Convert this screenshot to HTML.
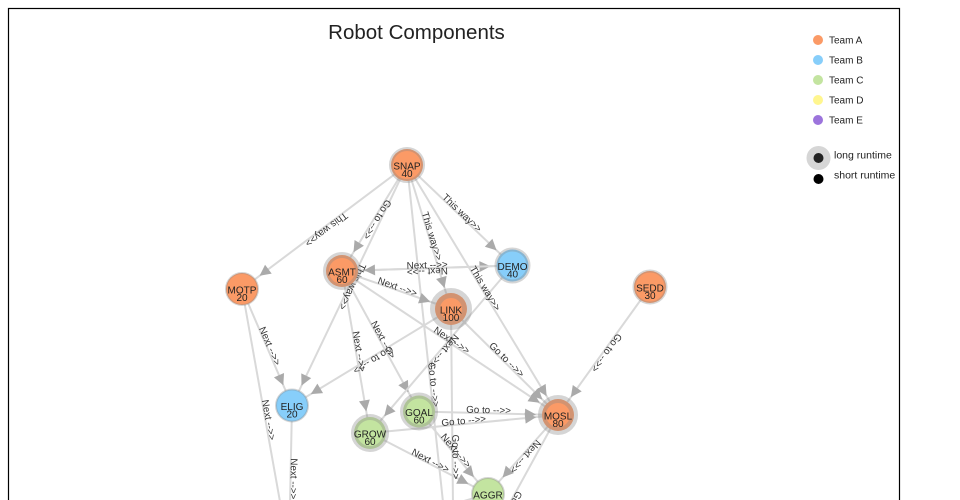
<!DOCTYPE html>
<html>
<head>
<meta charset="utf-8">
<style>
  html, body { margin: 0; padding: 0; background: #fff; width: 960px; height: 500px; overflow: hidden; }
  svg { display: block; overflow: hidden; }
  .link { stroke: #d9d9d9; stroke-width: 2; fill: none; }
  .elabel { font-family: "Liberation Sans", "DejaVu Sans", sans-serif; font-size: 9.8px; fill: #333; }
  .nlabel { font-family: "Liberation Sans", "DejaVu Sans", sans-serif; font-size: 10px; fill: #222; text-anchor: middle; }
  .leg { font-family: "Liberation Sans", "DejaVu Sans", sans-serif; font-size: 10px; fill: #222; }
  .node { stroke: #888; stroke-opacity: 0.35; }
</style>
</head>
<body>
<svg width="960" height="500" viewBox="0 0 960 500" xmlns="http://www.w3.org/2000/svg">
  <defs>
    <marker id="arr" viewBox="0 -5.5 11 11" refX="33" refY="0" markerWidth="11" markerHeight="11" markerUnits="userSpaceOnUse" orient="auto" overflow="visible">
      <path d="M0,-5.5L11,0L0,5.5Z" fill="#aaa"/>
    </marker>
    <clipPath id="frame"><rect x="0" y="0" width="960" height="500"/></clipPath>
  </defs>

  <g clip-path="url(#frame)">
  <rect x="8.5" y="8.5" width="891" height="494" fill="none" stroke="#000" stroke-width="1.2"/>

  <text x="416.5" y="39" text-anchor="middle" font-family="Liberation Sans, DejaVu Sans, sans-serif" font-size="20.5" fill="#222">Robot Components</text>

  <!-- links -->
  <g>
    <path id="e1" class="link" marker-end="url(#arr)" d="M407,165 L242,289"/>
    <path id="e2" class="link" marker-end="url(#arr)" d="M407,165 L342,271"/>
    <path id="e3" class="link" marker-end="url(#arr)" d="M407,165 L292,405.5"/>
    <path id="e4" class="link" marker-end="url(#arr)" d="M407,165 L454,605"/>
    <path id="e5" class="link" marker-end="url(#arr)" d="M407,165 L451,309"/>
    <path id="e6" class="link" marker-end="url(#arr)" d="M407,165 L558,415"/>
    <path id="e7" class="link" marker-end="url(#arr)" d="M407,165 L512.5,265.5"/>
    <path id="e8" class="link" marker-end="url(#arr)" d="M342,271 L512.5,265.5"/>
    <path id="e9" class="link" marker-end="url(#arr)" d="M512.5,265.5 L342,271"/>
    <path id="e10" class="link" marker-end="url(#arr)" d="M342,271 L451,309"/>
    <path id="e11" class="link" marker-end="url(#arr)" d="M342,271 L558,415"/>
    <path id="e12" class="link" marker-end="url(#arr)" d="M342,271 L370,433"/>
    <path id="e13" class="link" marker-end="url(#arr)" d="M342,271 L419,411.5"/>
    <path id="e14" class="link" marker-end="url(#arr)" d="M512.5,265.5 L370,433"/>
    <path id="e15" class="link" marker-end="url(#arr)" d="M451,309 L292,405.5"/>
    <path id="e16" class="link" marker-end="url(#arr)" d="M451,309 L558,415"/>
    <path id="e17" class="link" marker-end="url(#arr)" d="M451,309 L454,605"/>
    <path id="e18" class="link" marker-end="url(#arr)" d="M242,289 L292,405.5"/>
    <path id="e19" class="link" marker-end="url(#arr)" d="M242,289 L289,552"/>
    <path id="e20" class="link" marker-end="url(#arr)" d="M292,405.5 L289,552"/>
    <path id="e21" class="link" marker-end="url(#arr)" d="M419,411.5 L558,415"/>
    <path id="e22" class="link" marker-end="url(#arr)" d="M370,433 L558,415"/>
    <path id="e23" class="link" marker-end="url(#arr)" d="M370,433 L488,494"/>
    <path id="e24" class="link" marker-end="url(#arr)" d="M419,411.5 L488,494"/>
    <path id="e25" class="link" marker-end="url(#arr)" d="M558,415 L488,494"/>
    <path id="e26" class="link" marker-end="url(#arr)" d="M650,287 L558,415"/>
    <path id="e27" class="link" marker-end="url(#arr)" d="M558,415 L454,605"/>
    <path id="e28" class="link" marker-end="url(#arr)" d="M488,494 L289,552"/>
  </g>

  <!-- edge labels -->
  <g class="elabel" text-anchor="middle">
    <text><textPath href="#e1" startOffset="50%">This way&gt;&gt;</textPath></text>
    <text><textPath href="#e2" startOffset="50%">Go to --&gt;&gt;</textPath></text>
    <text><textPath href="#e3" startOffset="50%">This way&gt;&gt;</textPath></text>
    <text><textPath href="#e4" startOffset="50%">Go to --&gt;&gt;</textPath></text>
    <text><textPath href="#e5" startOffset="50%">This way&gt;&gt;</textPath></text>
    <text><textPath href="#e6" startOffset="50%">This way&gt;&gt;</textPath></text>
    <text><textPath href="#e7" startOffset="50%">This way&gt;&gt;</textPath></text>
    <text><textPath href="#e8" startOffset="50%">Next --&gt;&gt;</textPath></text>
    <text><textPath href="#e9" startOffset="50%">Next --&gt;&gt;</textPath></text>
    <text><textPath href="#e10" startOffset="50%">Next --&gt;&gt;</textPath></text>
    <text><textPath href="#e11" startOffset="50%">Next --&gt;&gt;</textPath></text>
    <text><textPath href="#e12" startOffset="50%">Next --&gt;&gt;</textPath></text>
    <text><textPath href="#e13" startOffset="50%">Next --&gt;&gt;</textPath></text>
    <text><textPath href="#e14" startOffset="50%">Next --&gt;&gt;</textPath></text>
    <text><textPath href="#e15" startOffset="50%">Go to --&gt;&gt;</textPath></text>
    <text><textPath href="#e16" startOffset="50%">Go to --&gt;&gt;</textPath></text>
    <text><textPath href="#e17" startOffset="50%">Go to --&gt;&gt;</textPath></text>
    <text><textPath href="#e18" startOffset="50%">Next --&gt;&gt;</textPath></text>
    <text><textPath href="#e19" startOffset="50%">Next --&gt;&gt;</textPath></text>
    <text><textPath href="#e20" startOffset="50%">Next --&gt;&gt;</textPath></text>
    <text><textPath href="#e21" startOffset="50%">Go to --&gt;&gt;</textPath></text>
    <text><textPath href="#e22" startOffset="50%">Go to --&gt;&gt;</textPath></text>
    <text><textPath href="#e23" startOffset="50%">Next --&gt;&gt;</textPath></text>
    <text><textPath href="#e24" startOffset="50%">Next --&gt;&gt;</textPath></text>
    <text><textPath href="#e25" startOffset="50%">Next --&gt;&gt;</textPath></text>
    <text><textPath href="#e26" startOffset="50%">Go to --&gt;&gt;</textPath></text>
    <text><textPath href="#e27" startOffset="50%">Go to --&gt;&gt;</textPath></text>
    <text><textPath href="#e28" startOffset="50%">Next --&gt;&gt;</textPath></text>
  </g>

  <!-- nodes -->
  <g>
    <circle class="node" cx="407" cy="165" r="16" fill="#fb9a66" stroke-width="4"/>
    <text class="nlabel" x="407" y="169.5">SNAP</text><text class="nlabel" x="407" y="177">40</text>

    <circle class="node" cx="512.5" cy="265.5" r="16" fill="#87cefa" stroke-width="4"/>
    <text class="nlabel" x="512.5" y="270">DEMO</text><text class="nlabel" x="512.5" y="277.5">40</text>

    <circle class="node" cx="242" cy="289" r="16" fill="#fb9a66" stroke-width="2"/>
    <text class="nlabel" x="242" y="293.5">MOTP</text><text class="nlabel" x="242" y="301">20</text>

    <circle class="node" cx="342" cy="271" r="16" fill="#fb9a66" stroke-width="6"/>
    <text class="nlabel" x="342" y="275.5">ASMT</text><text class="nlabel" x="342" y="283">60</text>

    <circle class="node" cx="451" cy="309" r="16" fill="#fb9a66" stroke-width="10"/>
    <text class="nlabel" x="451" y="313.5">LINK</text><text class="nlabel" x="451" y="321">100</text>

    <circle class="node" cx="650" cy="287" r="16" fill="#fb9a66" stroke-width="3"/>
    <text class="nlabel" x="650" y="291.5">SEDD</text><text class="nlabel" x="650" y="299">30</text>

    <circle class="node" cx="292" cy="405.5" r="16" fill="#87cefa" stroke-width="2"/>
    <text class="nlabel" x="292" y="410">ELIG</text><text class="nlabel" x="292" y="417.5">20</text>

    <circle class="node" cx="419" cy="411.5" r="16" fill="#c3e4a0" stroke-width="6"/>
    <text class="nlabel" x="419" y="416">GOAL</text><text class="nlabel" x="419" y="423.5">60</text>

    <circle class="node" cx="370" cy="433" r="16" fill="#c3e4a0" stroke-width="6"/>
    <text class="nlabel" x="370" y="437.5">GROW</text><text class="nlabel" x="370" y="445">60</text>

    <circle class="node" cx="558" cy="415" r="16" fill="#fb9a66" stroke-width="8"/>
    <text class="nlabel" x="558" y="419.5">MOSL</text><text class="nlabel" x="558" y="427">80</text>

    <circle class="node" cx="488" cy="494" r="16" fill="#c3e4a0" stroke-width="2"/>
    <text class="nlabel" x="488" y="498.5">AGGR</text>
  </g>

  <!-- legend -->
  <g>
    <circle cx="818" cy="40" r="5" fill="#fb9a66"/>
    <text class="leg" x="829" y="43.5">Team A</text>
    <circle cx="818" cy="60" r="5" fill="#87cefa"/>
    <text class="leg" x="829" y="63.5">Team B</text>
    <circle cx="818" cy="80" r="5" fill="#c3e4a0"/>
    <text class="leg" x="829" y="83.5">Team C</text>
    <circle cx="818" cy="100" r="5" fill="#fff68f"/>
    <text class="leg" x="829" y="103.5">Team D</text>
    <circle cx="818" cy="120" r="5" fill="#9c74dc"/>
    <text class="leg" x="829" y="123.5">Team E</text>

    <circle cx="818.5" cy="158" r="12" fill="#d6d6d6"/>
    <circle cx="818.5" cy="158" r="5" fill="#222"/>
    <text class="leg" x="834" y="158.5" style="font-size:10.5px">long runtime</text>
    <circle cx="818.5" cy="179" r="5" fill="#000"/>
    <text class="leg" x="834" y="178.5" style="font-size:10.5px">short runtime</text>
  </g>
  </g>
</svg>
</body>
</html>
